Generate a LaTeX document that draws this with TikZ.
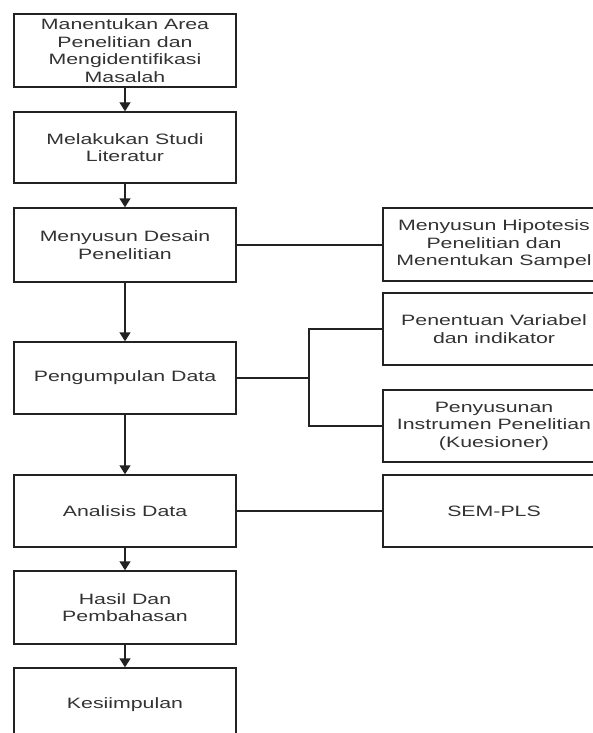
\documentclass[tikz,border=0pt]{standalone}
\usepackage{fontspec}
\setmainfont{Liberation Sans}[FakeStretch=1.42]
\usetikzlibrary{arrows.meta}
\definecolor{txt}{HTML}{333333}
\definecolor{ln}{HTML}{222222}
\begin{document}
\begin{tikzpicture}[x=1pt,y=-1pt,
  box/.style={draw=ln, line width=1.4pt, minimum width=222pt, minimum height=73pt,
    inner sep=0pt, align=center, text=txt,
    font=\fontsize{15}{17.5}\selectfont},
  conn/.style={draw=ln, line width=1.4pt},
  arr/.style={conn, -{Triangle[width=11pt,length=9pt]}}]
\useasboundingbox (0,0) rectangle (593,733);
\clip (0,0) rectangle (593,733);
\fill[white] (0,0) rectangle (593,733);
\node[box] (b1) at (125,50.5) {Manentukan Area\\Penelitian dan\\Mengidentifikasi\\Masalah};
\node[box, minimum height=71pt] (b2) at (125,147.5) {Melakukan Studi\\Literatur};
\node[box, minimum height=74pt] (b3) at (125,245) {Menyusun Desain\\Penelitian};
\node[box, minimum height=72pt] (b4) at (125,378) {Pengumpulan Data};
\node[box, minimum height=72pt] (b5) at (125,511) {Analisis Data};
\node[box] (b6) at (125,607.5) {Hasil Dan\\Pembahasan};
\node[box] (b7) at (125,704.5) {Kesiimpulan};
\node[box] (r1) at (494,244.5) {Menyusun Hipotesis\\Penelitian dan\\Menentukan Sampel};
\node[box, minimum height=72pt] (r2) at (494,329) {Penentuan Variabel\\dan indikator};
\node[box, minimum height=72pt] (r3) at (494,426) {Penyusunan\\Instrumen Penelitian\\(Kuesioner)};
\node[box, minimum height=72pt] (r4) at (494,511) {SEM-PLS};
\draw[arr] (b1) -- (b2);
\draw[arr] (b2) -- (b3);
\draw[arr] (b3) -- (b4);
\draw[arr] (b4) -- (b5);
\draw[arr] (b5) -- (b6);
\draw[arr] (b6) -- (b7);
\draw[conn] (b3.east) -- (r1.west |- b3.east);
\draw[conn] (b5.east) -- (r4.west |- b5.east);
\coordinate (j) at (309,378);
\draw[conn] (b4.east) -- (j);
\draw[conn] (j) |- (r2.west);
\draw[conn] (j) |- (r3.west);
\end{tikzpicture}
\end{document}
